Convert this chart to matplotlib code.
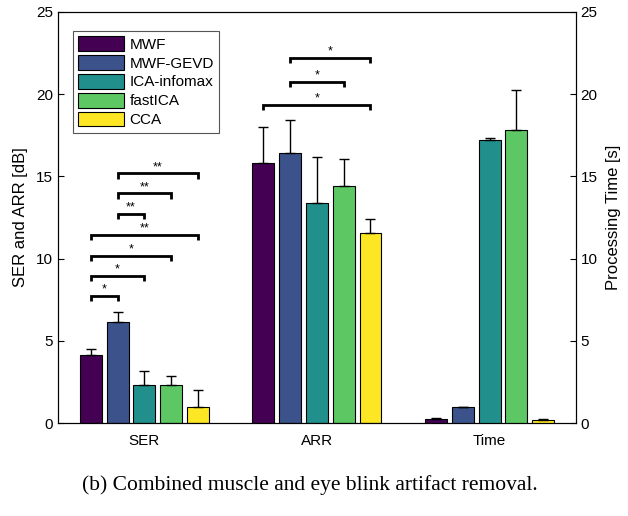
import matplotlib
matplotlib.use("Agg")
import matplotlib.pyplot as plt
import numpy as np

plt.rcParams["font.family"] = ["Liberation Sans", "DejaVu Sans"]

methods = ["MWF", "MWF-GEVD", "ICA-infomax", "fastICA", "CCA"]
colors = ["#440154", "#3b528b", "#21908d", "#5dc863", "#fde725"]
groups = ["SER", "ARR", "Time"]

# mean and upper error (std) per method, rows = methods
ser = [4.14, 6.16, 2.29, 2.29, 0.97]
ser_err = [0.36, 0.61, 0.85, 0.59, 1.02]
arr = [15.8, 16.4, 13.4, 14.4, 11.54]
arr_err = [2.22, 2.03, 2.78, 1.66, 0.87]
time_s = [0.26, 0.97, 17.2, 17.83, 0.2]
time_err = [0.07, 0.04, 0.16, 2.44, 0.03]

# significance brackets: (group, method i, method j, height, label)
sig = [
    (0, 0, 1, 7.72, "*"),
    (0, 0, 2, 8.94, "*"),
    (0, 0, 3, 10.16, "*"),
    (0, 0, 4, 11.45, "**"),
    (0, 1, 2, 12.71, "**"),
    (0, 1, 3, 13.97, "**"),
    (0, 1, 4, 15.18, "**"),
    (1, 0, 4, 19.34, "*"),
    (1, 1, 3, 20.76, "*"),
    (1, 1, 4, 22.2, "*"),
]

fig = plt.figure(figsize=(6.28, 5.16), dpi=100)
ax = fig.add_axes([0.0924, 0.180, 0.8246, 0.797])
ax2 = ax.twinx()

w = 0.127
step = 0.155
offs = (np.arange(len(methods)) - 2) * step
ekw = dict(ecolor="black", elinewidth=1.0, capsize=3.5, capthick=1.0)

for k in range(len(methods)):
    xs = np.array([1, 2]) + offs[k]
    ax.bar(xs, [ser[k], arr[k]], w, color=colors[k], edgecolor="black",
           linewidth=0.8, label=methods[k])
    ax.errorbar(xs, [ser[k], arr[k]], yerr=[[0, 0], [ser_err[k], arr_err[k]]],
                fmt="none", **ekw)
    ax2.bar(3 + offs[k], time_s[k], w, color=colors[k], edgecolor="black", linewidth=0.8)
    ax2.errorbar(3 + offs[k], time_s[k], yerr=[[0], [time_err[k]]], fmt="none", **ekw)

for g, i, j, h, lab in sig:
    x1, x2 = g + 1 + offs[i], g + 1 + offs[j]
    ax.plot([x1, x1, x2, x2], [h - 0.32, h, h, h - 0.32], color="black", lw=2.0,
            solid_capstyle="butt", solid_joinstyle="miter")
    ax.text((x1 + x2) / 2, h + 0.02, lab, ha="center", va="bottom", fontsize=9)

for a in (ax, ax2):
    a.set_ylim(0, 25)
    a.set_yticks([0, 5, 10, 15, 20, 25])
    a.tick_params(direction="in", labelsize=11, length=4, width=0.8)
    for s in a.spines.values():
        s.set_linewidth(0.8)
ax.set_xlim(0.5, 3.5)
ax.set_xticks([1, 2, 3])
ax.set_xticklabels(groups)
ax.tick_params(axis="x", length=0, pad=8)
ax.set_ylabel("SER and ARR [dB]", fontsize=12, labelpad=6)
ax2.set_ylabel("Processing Time [s]", fontsize=12, labelpad=6)

leg = ax.legend(loc="upper left", bbox_to_anchor=(0.02, 0.965), fontsize=11,
                fancybox=False, edgecolor="#555555", framealpha=1,
                handlelength=3.0, handleheight=1.1, labelspacing=0.22,
                handletextpad=0.35, borderaxespad=0.3, borderpad=0.35)
leg.get_frame().set_linewidth(0.8)

fig.text(0.493, 0.06, "(b) Combined muscle and eye blink artifact removal.",
         ha="center", va="center", fontsize=15.5,
         family=["Liberation Serif", "DejaVu Serif"])

fig.savefig("out.png", dpi=100)
